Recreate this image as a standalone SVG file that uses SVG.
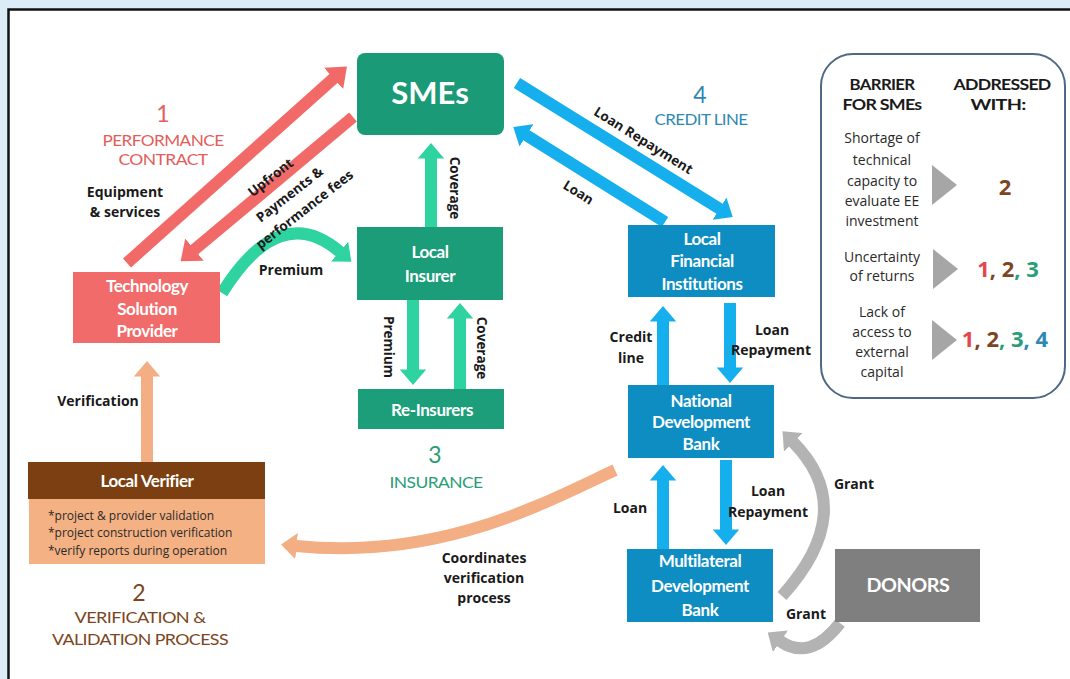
<svg xmlns="http://www.w3.org/2000/svg" width="1070" height="679" viewBox="0 0 1070 679">
<defs>
<style>
.lbl{font-family:'Open Sans','Liberation Sans',sans-serif;font-weight:700;font-size:14px;fill:#1a1a1a;text-anchor:middle}
.sm{font-size:13.5px}
.ttl{font-family:Lato,'Liberation Sans',sans-serif;font-weight:700;font-size:17px;fill:#ffffff;text-anchor:middle;letter-spacing:-0.4px}
.sec{font-family:Lato,'Liberation Sans',sans-serif;font-size:15px;text-anchor:middle;letter-spacing:-0.5px}
.num{font-family:Lato,'Liberation Sans',sans-serif;font-size:23px;text-anchor:middle}
.bar{font-family:'Open Sans','Liberation Sans',sans-serif;font-size:14px;fill:#2a2a2a;text-anchor:middle}
.barh{font-family:Lato,'Liberation Sans',sans-serif;font-weight:700;font-size:15px;fill:#1a1a1a;text-anchor:middle;letter-spacing:-0.6px}
.res{font-family:'Open Sans','Liberation Sans',sans-serif;font-weight:700;font-size:22px;text-anchor:middle}
.bul{font-family:'Open Sans','Liberation Sans',sans-serif;font-size:12px;fill:#2a2a2a}
.a{fill:none;stroke-width:12}
.red{stroke:#f26a68;marker-end:url(#mr)}
.grn{stroke:#2fd39f;marker-end:url(#mg)}
.blu{stroke:#16afee;marker-end:url(#mb)}
.pch{stroke:#f3ae84;marker-end:url(#mp)}
.gry{stroke:#b3b3b3;marker-end:url(#my)}
.c1{fill:#e2474f}.c2{fill:#7b4621}.c3{fill:#2a9d78}.c4{fill:#2e88b3}
</style>
<marker id="mr" viewBox="0 0 15 24" refX="0.5" refY="12" markerWidth="1.5" markerHeight="2.4" orient="auto" markerUnits="strokeWidth"><path d="M0,0L15,12L0,24z" fill="#f26a68"/></marker>
<marker id="mg" viewBox="0 0 13 22" refX="0.5" refY="11" markerWidth="1.3" markerHeight="2.2" orient="auto" markerUnits="strokeWidth"><path d="M0,0L13,11L0,22z" fill="#2fd39f"/></marker>
<marker id="mb" viewBox="0 0 13 22" refX="0.5" refY="11" markerWidth="1.3" markerHeight="2.2" orient="auto" markerUnits="strokeWidth"><path d="M0,0L13,11L0,22z" fill="#16afee"/></marker>
<marker id="mp" viewBox="0 0 13 22" refX="0.5" refY="11" markerWidth="1.3" markerHeight="2.2" orient="auto" markerUnits="strokeWidth"><path d="M0,0L13,11L0,22z" fill="#f3ae84"/></marker>
<marker id="my" viewBox="0 0 13 22" refX="0.5" refY="11" markerWidth="1.3" markerHeight="2.2" orient="auto" markerUnits="strokeWidth"><path d="M0,0L13,11L0,22z" fill="#b3b3b3"/></marker>
</defs>

<rect x="0" y="0" width="1070" height="679" fill="#dbecf7"/>
<rect x="8.5" y="9.5" width="1075" height="690" fill="#ffffff" stroke="#111111" stroke-width="2.5"/>

<g id="connectors">
  <line class="a red" x1="127" y1="263" x2="334" y2="78"/>
  <line class="a red" x1="353" y1="117" x2="194" y2="250"/>
  <path class="a grn" d="M222,293 Q280,200 340,252"/>
  <line class="a grn" x1="431" y1="227" x2="431" y2="158"/>
  <line class="a grn" x1="413" y1="300" x2="413" y2="370"/>
  <line class="a grn" x1="460" y1="389" x2="460" y2="318"/>
  <line class="a blu" x1="517" y1="83" x2="720" y2="209"/>
  <line class="a blu" x1="665" y1="222" x2="526" y2="135"/>
  <line class="a blu" x1="663" y1="385" x2="663" y2="321"/>
  <line class="a blu" x1="730" y1="303" x2="730" y2="368"/>
  <line class="a blu" x1="663" y1="549" x2="663" y2="480"/>
  <line class="a blu" x1="726" y1="460" x2="726" y2="530"/>
  <path class="a gry" d="M782,596 Q860,510 793,442"/>
  <path class="a gry" d="M840,623 Q810,662 780,641"/>
  <line class="a pch" x1="147" y1="462" x2="147" y2="376"/>
  <path class="a pch" d="M615,470 C540,505 440,560 296,546"/>
</g>

<g id="labels">
  <text class="num" x="163" y="122" fill="#e35d5b">1</text>
  <text class="sec" x="163" y="146" fill="#e35d5b" textLength="121" lengthAdjust="spacingAndGlyphs">PERFORMANCE</text>
  <text class="sec" x="163" y="165" fill="#e35d5b" textLength="89" lengthAdjust="spacingAndGlyphs">CONTRACT</text>
  <text class="num" x="700" y="103" fill="#2e88b3">4</text>
  <text class="sec" x="701" y="125" fill="#2e88b3" textLength="93" lengthAdjust="spacingAndGlyphs">CREDIT LINE</text>
  <text class="num" x="435" y="463" fill="#2a9d78">3</text>
  <text class="sec" x="436" y="488" fill="#2a9d78" textLength="93" lengthAdjust="spacingAndGlyphs">INSURANCE</text>
  <text class="num" x="139" y="601" fill="#7b4621">2</text>
  <text class="sec" x="140" y="623" fill="#7b4621" textLength="131" lengthAdjust="spacingAndGlyphs">VERIFICATION &amp;</text>
  <text class="sec" x="140" y="645" fill="#7b4621" textLength="176" lengthAdjust="spacingAndGlyphs">VALIDATION PROCESS</text>

  <text class="lbl" x="125" y="197">Equipment</text>
  <text class="lbl" x="125" y="217">&amp; services</text>
  <text class="lbl sm" transform="translate(271,178) rotate(-38)" y="4">Upfront</text>
  <text class="lbl sm" transform="translate(290,195) rotate(-38)" y="4">Payments &amp;</text>
  <text class="lbl sm" transform="translate(305,210) rotate(-38)" y="4">performance fees</text>
  <text class="lbl" x="291" y="275">Premium</text>
  <text class="lbl sm" transform="translate(450,188) rotate(90)">Coverage</text>
  <text class="lbl sm" transform="translate(384,347) rotate(90)">Premium</text>
  <text class="lbl sm" transform="translate(477,348) rotate(90)">Coverage</text>
  <text class="lbl sm" transform="translate(643,141) rotate(32)" y="4">Loan Repayment</text>
  <text class="lbl sm" transform="translate(578,193) rotate(32)" y="4">Loan</text>
  <text class="lbl" x="631" y="342">Credit</text>
  <text class="lbl" x="631" y="363">line</text>
  <text class="lbl" x="772" y="335">Loan</text>
  <text class="lbl" x="771" y="355">Repayment</text>
  <text class="lbl" x="630" y="513">Loan</text>
  <text class="lbl" x="768" y="496">Loan</text>
  <text class="lbl" x="768" y="517">Repayment</text>
  <text class="lbl" x="854" y="489">Grant</text>
  <text class="lbl" x="806" y="619">Grant</text>
  <text class="lbl" x="98" y="406">Verification</text>
  <text class="lbl" x="484" y="563">Coordinates</text>
  <text class="lbl" x="484" y="583">verification</text>
  <text class="lbl" x="484" y="603">process</text>
</g>

<g id="smes">
  <rect x="357" y="53" width="147" height="82" rx="8" fill="#1a9a76"/>
  <text class="ttl" x="430" y="104" style="font-size:31px;letter-spacing:0">SMEs</text>
</g>
<g id="local-insurer">
  <rect x="357" y="227" width="146" height="73" fill="#1a9d78"/>
  <text class="ttl" x="430" y="258">Local</text>
  <text class="ttl" x="430" y="282">Insurer</text>
</g>
<g id="re-insurers">
  <rect x="358" y="389" width="146" height="40" fill="#1c9e7a"/>
  <text class="ttl" x="432" y="416">Re-Insurers</text>
</g>
<g id="tech-provider">
  <rect x="73" y="272" width="147" height="71" fill="#f26b6b"/>
  <text class="ttl" x="147" y="292">Technology</text>
  <text class="ttl" x="147" y="315">Solution</text>
  <text class="ttl" x="147" y="337">Provider</text>
</g>
<g id="local-verifier">
  <rect x="29" y="499" width="236" height="65" fill="#f4b183"/>
  <rect x="28" y="462" width="237" height="37" fill="#7b3f12"/>
  <text class="ttl" x="147" y="487" style="font-size:17px">Local Verifier</text>
  <text class="bul" x="48" y="520">*project &amp; provider validation</text>
  <text class="bul" x="48" y="537">*project construction verification</text>
  <text class="bul" x="48" y="555">*verify reports during operation</text>
</g>
<g id="local-fi">
  <rect x="628" y="225" width="147" height="72" fill="#0e8dc3"/>
  <text class="ttl" x="702" y="245">Local</text>
  <text class="ttl" x="702" y="267">Financial</text>
  <text class="ttl" x="702" y="290">Institutions</text>
</g>
<g id="national-db">
  <rect x="628" y="385" width="146" height="73" fill="#0e8dc3"/>
  <text class="ttl" x="701" y="407">National</text>
  <text class="ttl" x="701" y="428">Development</text>
  <text class="ttl" x="701" y="450">Bank</text>
</g>
<g id="multilateral-db">
  <rect x="627" y="549" width="146" height="73" fill="#0e8dc3"/>
  <text class="ttl" x="700" y="567">Multilateral</text>
  <text class="ttl" x="700" y="592">Development</text>
  <text class="ttl" x="700" y="616">Bank</text>
</g>
<g id="donors">
  <rect x="835" y="549" width="145" height="73" fill="#7f7f7f"/>
  <text class="ttl" x="908" y="592" style="font-size:18px" textLength="83" lengthAdjust="spacingAndGlyphs">DONORS</text>
</g>

<g id="barrier-box">
  <rect x="821" y="54" width="244" height="344" rx="32" fill="#ffffff" stroke="#4f6984" stroke-width="2"/>
  <text class="barh" x="882" y="90" textLength="65" lengthAdjust="spacingAndGlyphs">BARRIER</text>
  <text class="barh" x="882" y="110" textLength="79" lengthAdjust="spacingAndGlyphs">FOR SMEs</text>
  <text class="barh" x="1002" y="90" textLength="97" lengthAdjust="spacingAndGlyphs">ADDRESSED</text>
  <text class="barh" x="998" y="110" textLength="55" lengthAdjust="spacingAndGlyphs">WITH:</text>
  <text class="bar" x="882" y="143">Shortage of</text>
  <text class="bar" x="882" y="165">technical</text>
  <text class="bar" x="882" y="186">capacity to</text>
  <text class="bar" x="882" y="206">evaluate EE</text>
  <text class="bar" x="882" y="226">investment</text>
  <text class="bar" x="882" y="262">Uncertainty</text>
  <text class="bar" x="882" y="281">of returns</text>
  <text class="bar" x="882" y="317">Lack of</text>
  <text class="bar" x="882" y="337">access to</text>
  <text class="bar" x="882" y="357">external</text>
  <text class="bar" x="882" y="377">capital</text>
  <polygon points="932,165 957,185 932,205" fill="#a6a6a6"/>
  <polygon points="933,249 958,269 933,289" fill="#a6a6a6"/>
  <polygon points="932,320 957,340 932,360" fill="#a6a6a6"/>
  <text class="res c2" x="1005" y="195">2</text>
  <text class="res" x="1008" y="277"><tspan class="c1">1</tspan><tspan class="c2">, 2</tspan><tspan class="c3">, 3</tspan></text>
  <text class="res" x="1005" y="347"><tspan class="c1">1</tspan><tspan class="c2">, 2</tspan><tspan class="c3">, 3</tspan><tspan class="c4">, 4</tspan></text>
</g>
</svg>
